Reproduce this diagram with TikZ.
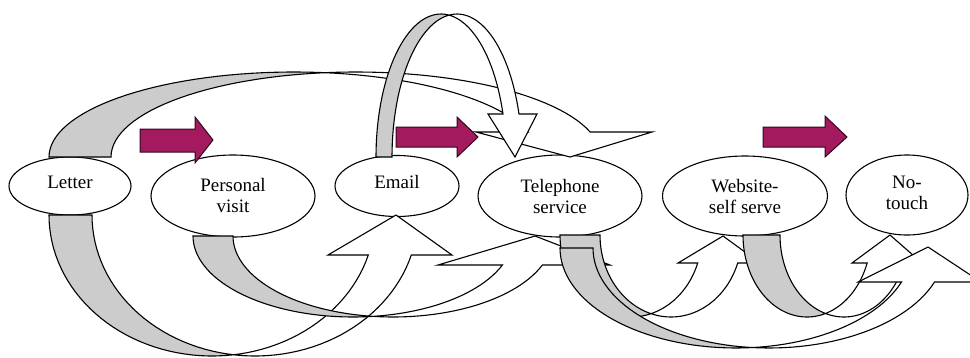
\documentclass[tikz,border=0pt]{standalone}
\usepackage{fontspec}
\setmainfont{Liberation Serif}
\usetikzlibrary{shapes.geometric}
\definecolor{plum}{RGB}{163,27,94}
\definecolor{bandgray}{RGB}{204,204,204}

% A bent block arrow is built from two equal half-ellipses offset by the band width.
% \bendset{side}{left x}{base y}{band width}{x radius}{y radius}; side = 1 bends below, -1 above
\newcommand\bendset[6]{%
  \def\baSg{#1}\def\baYo{#3}\def\baRx{#5}\def\baRy{#6}%
  \pgfmathsetmacro\baCa{#2+#5}%
  \pgfmathsetmacro\baCb{#2+#5+#4}%
  \pgfmathsetmacro\baAl{acos(#4/(2*#5))}%
  \pgfmathsetmacro\baBl{180-\baAl}%
}
% \bentarrow{head base y}{left wing x}{right wing x}{(tip)}
\newcommand\bentarrow[4]{%
  \pgfmathsetmacro\baTe{asin(abs(#1-\baYo)/\baRy)}%
  \fill[bandgray]
    plot[domain=180:\baAl] ({\baCa+\baRx*cos(\x)},{\baYo+\baSg*\baRy*sin(\x)})
    -- plot[domain=\baBl:180] ({\baCb+\baRx*cos(\x)},{\baYo+\baSg*\baRy*sin(\x)}) -- cycle;
  \fill[white]
    plot[domain=\baBl:\baTe] ({\baCb+\baRx*cos(\x)},{\baYo+\baSg*\baRy*sin(\x)})
    -- (#3,#1) -- #4 -- (#2,#1)
    -- plot[domain=\baTe:\baAl] ({\baCa+\baRx*cos(\x)},{\baYo+\baSg*\baRy*sin(\x)}) -- cycle;
  \draw[bandline]
    plot[domain=\baTe:180] ({\baCa+\baRx*cos(\x)},{\baYo+\baSg*\baRy*sin(\x)})
    -- plot[domain=180:\baTe] ({\baCb+\baRx*cos(\x)},{\baYo+\baSg*\baRy*sin(\x)})
    -- (#3,#1) -- #4 -- (#2,#1) -- cycle;
}

\begin{document}
\begin{tikzpicture}[x=1pt, y=-1pt, samples=60,
  oval/.style={ellipse, draw, line width=1.1pt, fill=white, inner sep=0pt},
  lbl/.style={align=center, inner sep=0pt, font=\fontsize{19}{21}\selectfont},
  bandline/.style={draw=black, line width=1.1pt, line join=miter},
  blockarrow/.style={fill=plum, draw=black!70!plum, line width=1pt, line join=miter}]

\useasboundingbox (0,0) rectangle (970,357);

% channels
\node[oval, minimum width=122pt, minimum height=58pt] (letter) at (70,186) {};
\node[oval, minimum width=164pt, minimum height=82pt] (visit) at (233,196) {};
\node[oval, minimum width=124pt, minimum height=61pt] (email) at (397,186) {};
\node[oval, minimum width=164pt, minimum height=82pt] (phone) at (560,196) {};
\node[oval, minimum width=165pt, minimum height=80pt] (web) at (745,196) {};
\node[oval, minimum width=122pt, minimum height=80pt] (notouch) at (907,195) {};

\node[lbl] (letter-t) at (70,182) {Letter};
\node[lbl] (visit-t) at (233,195) {Personal\\visit};
\node[lbl] (email-t) at (397,182) {Email};
\node[lbl] (phone-t) at (560,196) {Telephone\\service};
\node[lbl] (web-t) at (745,196) {Website-\\self serve};
\node[lbl] (notouch-t) at (907,193) {No-\\touch};

% arches over the top
\bendset{-1}{49}{157}{62}{245}{85}
\bentarrow{132}{476}{652}{(570,157)}
\bendset{-1}{376}{157}{16}{65}{143}
\bentarrow{114}{488}{537}{(515,157)}

% loops underneath
\bendset{1}{49}{215}{43}{163}{141}
\bentarrow{255}{328}{452}{(396,215)}
\bendset{1}{193}{236}{40}{160}{81}
\bentarrow{265}{438}{610}{(535,236)}
\bendset{1}{560}{235}{40}{71}{82}
\bentarrow{263}{678}{760}{(723,236)}
\bendset{1}{743}{235}{37}{64}{82}
\bentarrow{263}{852}{922}{(890,235)}
\bendset{1}{560}{248}{33}{176}{100}
\bentarrow{282}{858}{981}{(928,247)}

% forward steps
\draw[blockarrow] (140,129) -- (195,129) -- (195,117) -- (213,140) -- (195,163) -- (195,152) -- (140,152) -- cycle;
\draw[blockarrow] (396,127) -- (457,127) -- (457,117) -- (478,137) -- (457,157) -- (457,147) -- (396,147) -- cycle;
\draw[blockarrow] (763,127) -- (825,127) -- (825,116) -- (847,137) -- (825,157) -- (825,147) -- (763,147) -- cycle;
\end{tikzpicture}
\end{document}
